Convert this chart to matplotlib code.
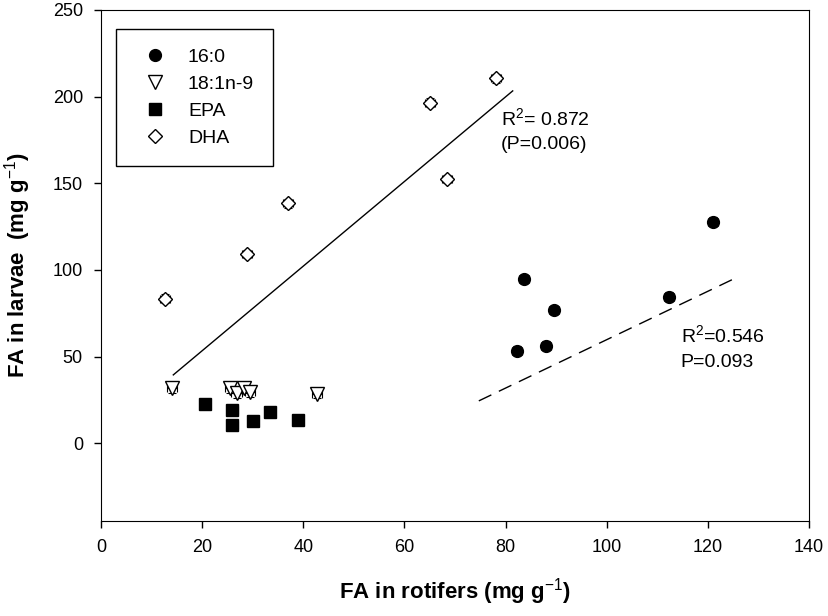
import matplotlib.pyplot as plt

plt.rcParams['font.family'] = ['Liberation Sans', 'DejaVu Sans']
plt.rcParams['mathtext.fontset'] = 'custom'
plt.rcParams['mathtext.rm'] = 'Liberation Sans'
plt.rcParams['mathtext.bf'] = 'Liberation Sans:bold'

# 16:0
x_160 = [82.2, 83.7, 88.0, 89.6, 112.3, 121.0]
y_160 = [53.4, 94.8, 56.3, 76.9, 84.6, 127.9]
# 18:1n-9
x_181 = [14.1, 25.5, 26.8, 28.3, 29.4, 42.7]
y_181 = [31.7, 31.7, 28.8, 31.7, 29.4, 28.4]
# EPA
x_epa = [20.6, 26.0, 26.0, 30.1, 33.5, 39.0]
y_epa = [22.5, 19.2, 10.6, 13.0, 18.2, 13.4]
# DHA
x_dha = [12.7, 28.8, 36.9, 65.0, 68.4, 78.1]
y_dha = [83.3, 109.2, 138.5, 196.5, 152.5, 210.6]

# small error bars
xerr = [1.0, 1.0, 1.0, 1.0, 1.0, 1.0]
yerr = [2.5, 2.5, 2.5, 2.5, 2.5, 2.5]

# regression lines (end points)
dha_fit_x = [14.3, 81.4]
dha_fit_y = [39.4, 203.3]
p160_fit_x = [74.7, 125.1]
p160_fit_y = [24.4, 94.8]

fig = plt.figure(figsize=(8.29, 6.16), dpi=100)
ax = fig.add_axes([0.1218, 0.154, 0.8542, 0.8298])

# error bars first, markers on top
for xs, ys in [(x_160, y_160), (x_181, y_181), (x_epa, y_epa), (x_dha, y_dha)]:
    ax.errorbar(xs, ys, xerr=xerr, yerr=yerr, fmt='none', ecolor='black',
                elinewidth=0.8, capsize=3, capthick=0.8, zorder=2)

ax.plot(x_160, y_160, 'o', ms=8.5, mfc='black', mec='black', label='16:0', zorder=3)
ax.plot(x_181, y_181, 'v', ms=9.5, mfc='white', mec='black', mew=1, label='18:1n-9', zorder=3)
ax.plot(x_epa, y_epa, 's', ms=8, mfc='black', mec='black', label='EPA', zorder=3)
ax.plot(x_dha, y_dha, 'D', ms=7.5, mfc='white', mec='black', mew=1, label='DHA', zorder=3)

ax.plot(dha_fit_x, dha_fit_y, color='black', lw=1)
ax.plot(p160_fit_x, p160_fit_y, color='black', lw=1, dashes=(10, 6))

ax.text(79.1, 183, 'R$^2$= 0.872', fontsize=14)
ax.text(79.1, 169.5, '(P=0.006)', fontsize=14)
ax.text(114.6, 58, 'R$^2$=0.546', fontsize=14)
ax.text(114.6, 44, 'P=0.093', fontsize=14)

ax.set_xlim(0, 140)
ax.set_ylim(-45, 250)
ax.set_xticks(range(0, 141, 20))
ax.set_yticks(range(0, 251, 50))
ax.tick_params(labelsize=13, direction='out', length=5, width=1, pad=8)

ax.set_xlabel('FA in rotifers (mg g$^{-1}$)', fontsize=16, fontweight='bold', labelpad=14)
ax.set_ylabel('FA in larvae  (mg g$^{-1}$)', fontsize=16, fontweight='bold', labelpad=14)

leg = ax.legend(loc='upper left', bbox_to_anchor=(0.0212, 0.963), fontsize=14,
                frameon=True, fancybox=False, edgecolor='black', framealpha=1,
                handlelength=2.0, handletextpad=0.7, borderpad=1.0,
                labelspacing=0.48, borderaxespad=0)
leg.get_frame().set_linewidth(1)

fig.savefig('out.png', dpi=100)
